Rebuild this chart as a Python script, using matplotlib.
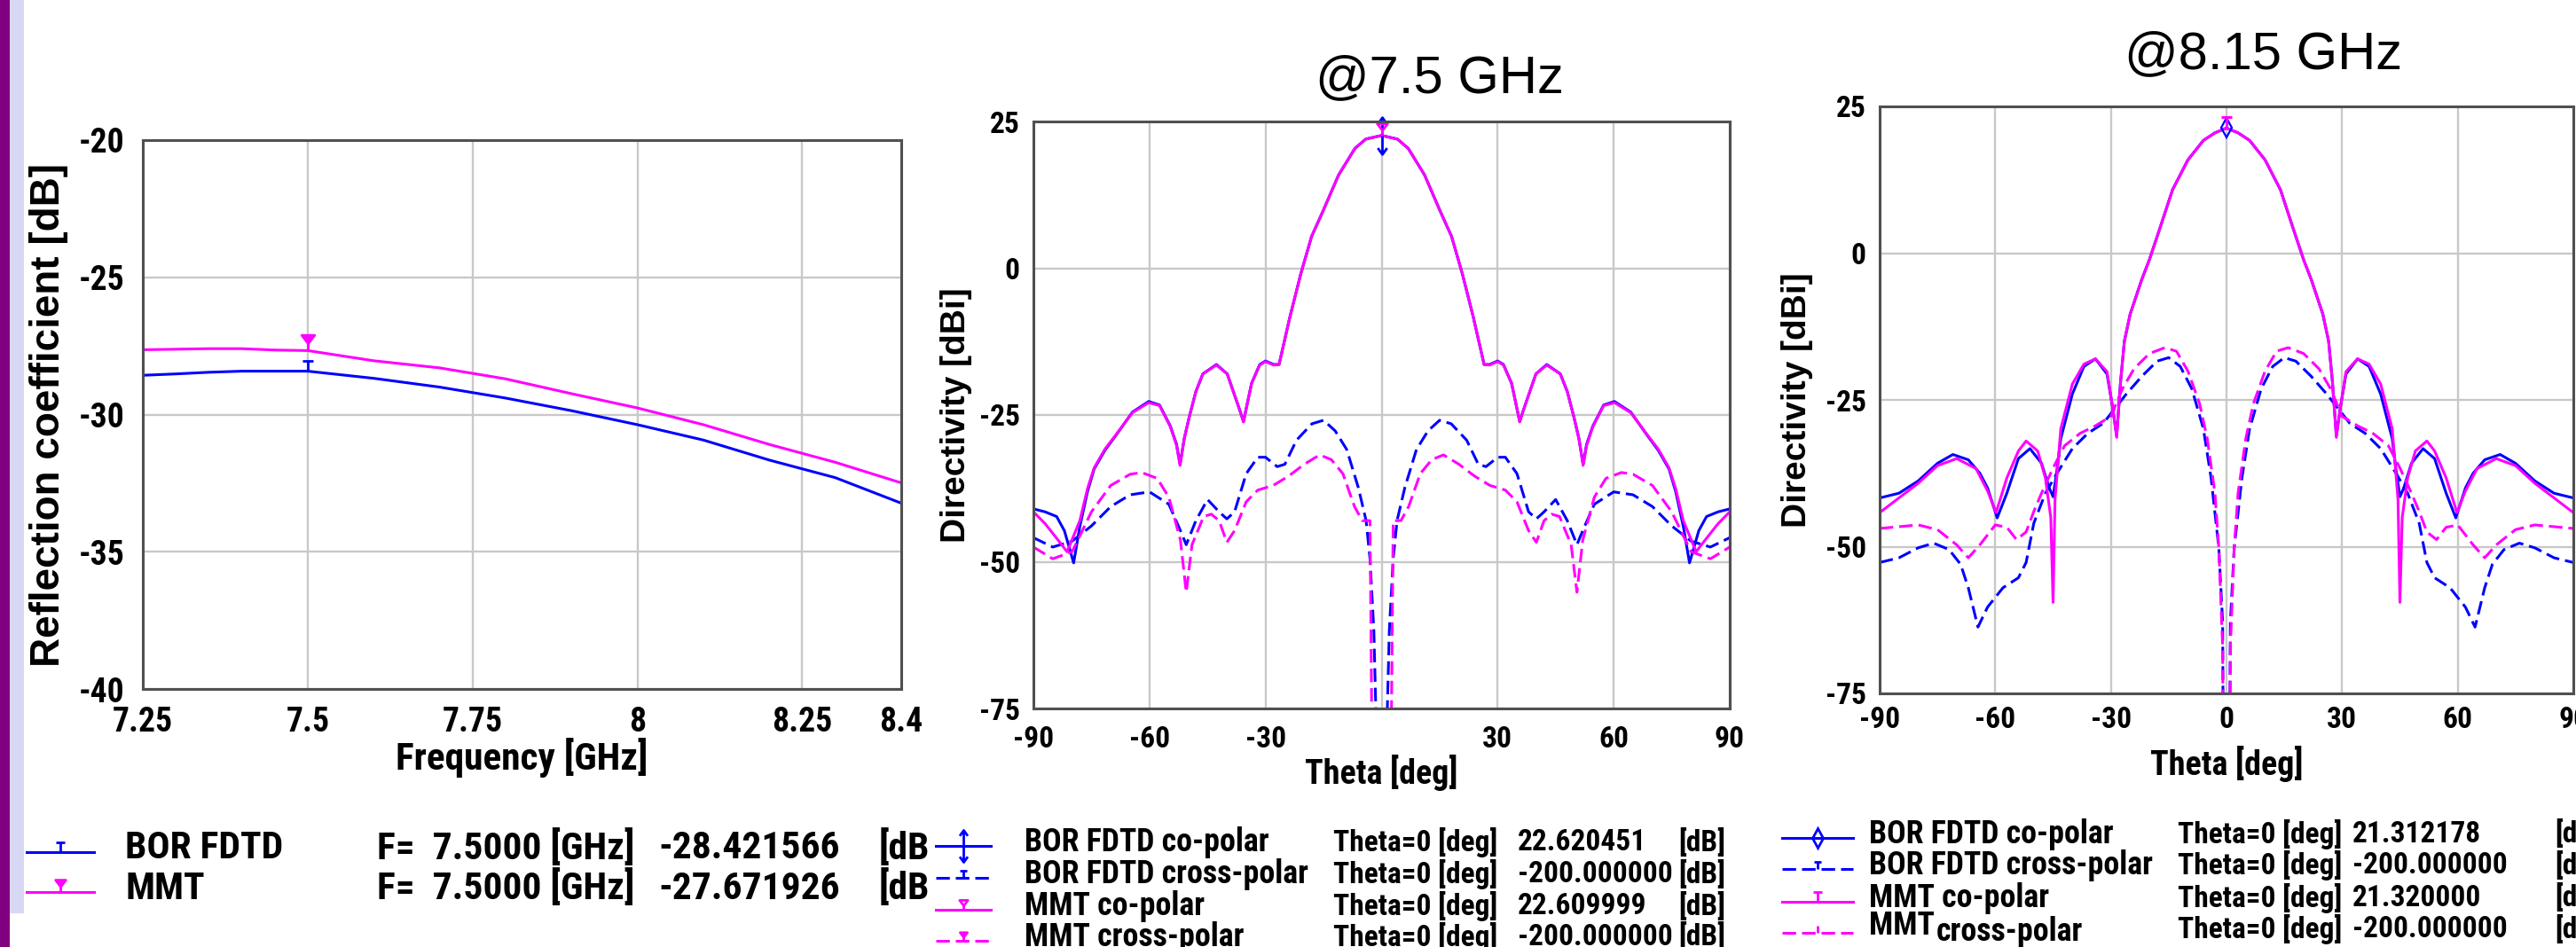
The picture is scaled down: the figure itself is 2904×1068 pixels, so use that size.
import matplotlib
matplotlib.use("Agg")
import matplotlib.pyplot as plt
from matplotlib.path import Path
from matplotlib.lines import Line2D
from matplotlib.patches import Rectangle
from matplotlib import font_manager

W, H = 2904, 1068
fonts = font_manager.fontManager.ttflist


def has_font(name, condensed=False):
    for f in fonts:
        if f.name == name and (not condensed or "condensed" in str(f.stretch)):
            return True
    return False


# the solver screenshots use a narrow bold face; take the closest one installed
if has_font("Liberation Sans Narrow"):
    NARROW, STRETCH = "Liberation Sans Narrow", "normal"
elif has_font("Roboto Condensed"):
    NARROW, STRETCH = "Roboto Condensed", "normal"
elif has_font("DejaVu Sans", condensed=True):
    NARROW, STRETCH = "DejaVu Sans", "condensed"
elif has_font("Open Sans Condensed"):
    NARROW, STRETCH = "Open Sans Condensed", "normal"
else:
    NARROW, STRETCH = "Liberation Sans", "normal"
ARIAL = "Liberation Sans" if has_font("Liberation Sans") else "DejaVu Sans"
NF = dict(fontfamily=NARROW, fontstretch=STRETCH, fontweight="bold")

BLUE = "#0000ff"
MAGENTA = "#ff00ff"

# ---- reflection coefficient vs frequency ----
freq = [7.25, 7.3, 7.35, 7.4, 7.45, 7.5, 7.6, 7.7, 7.8, 7.9, 8.0, 8.1, 8.2, 8.3, 8.4]
s11_bor = [-28.57, -28.52, -28.46, -28.42, -28.42, -28.42, -28.68, -29.0, -29.4, -29.86,
           -30.37, -30.93, -31.66, -32.3, -33.23]
s11_mmt = [-27.64, -27.62, -27.6, -27.6, -27.65, -27.67, -28.04, -28.3, -28.7, -29.24,
           -29.76, -30.37, -31.09, -31.74, -32.49]

# ---- directivity @7.5 GHz ----
th75_bor_co = [-90, -87, -84, -82, -79.6, -78, -76, -74.3, -71.5, -68.7, -64.4, -60.2, -57.4, -54.6,
               -53, -52.1, -51, -49.7, -48, -46.2, -42.7, -39.9, -37.8, -36.5, -35.7, -34.7, -33.6,
               -31.5, -30, -27.9, -26.5, -25.5, -23.7, -20.9, -18.1, -15.3, -11.1, -6.9, -4.1, 0,
               4.1, 6.9, 11.1, 15.3, 18.1, 20.9, 23.7, 25.5, 26.5, 27.9, 30, 31.5, 33.6, 34.7, 35.7,
               36.5, 37.8, 39.9, 42.7, 46.2, 48, 49.7, 51, 52.1, 53, 54.6, 57.4, 60.2, 64.4, 68.7,
               71.5, 74.3, 76, 78, 79.6, 82, 84, 87, 90]
d75_bor_co = [-41, -41.5, -42.3, -44.7, -50.2, -44, -38, -34.2, -31, -28.5, -24.5, -22.7, -23.3, -26.9,
              -30, -33.4, -29, -25.3, -21, -18, -16.4, -18, -22, -24.5, -26.1, -23, -19.6,
              -16.4, -15.8, -16.4, -16.4, -13.5, -8.3, -1.0, 5.4, 9.5, 15.9, 20.4, 22.0, 22.62,
              22.0, 20.4, 15.9, 9.5, 5.4, -1.0, -8.3, -13.5, -16.4, -16.4, -15.8, -16.4, -19.6, -23, -26.1,
              -24.5, -22, -18, -16.4, -18, -21, -25.3, -29, -33.4, -30, -26.9, -23.3, -22.7, -24.5, -28.5,
              -31, -34.2, -38, -44, -50.2, -44.7, -42.3, -41.5, -41]
th75_mmt_co = [-90, -87, -84, -81.3, -78, -76, -74.3, -71.5, -68.7, -64.4, -60.2, -57.4, -54.6, -53,
               -52.1, -51, -49.7, -48, -46.2, -42.7, -39.9, -37.8, -36.5, -35.7, -34.7, -33.6, -31.5,
               -30, -27.9, -26.5, -25.5, -23.7, -20.9, -18.1, -15.3, -11.1, -6.9, -4.1, 0,
               4.1, 6.9, 11.1, 15.3, 18.1, 20.9, 23.7, 25.5, 26.5, 27.9, 30, 31.5, 33.6, 34.7, 35.7,
               36.5, 37.8, 39.9, 42.7, 46.2, 48, 49.7, 51, 52.1, 53, 54.6, 57.4, 60.2, 64.4, 68.7,
               71.5, 74.3, 76, 78, 81.3, 84, 87, 90]
d75_mmt_co = [-41.5, -43.5, -46, -48.3, -43, -37.5, -34, -30.8, -28.4, -24.6, -22.9, -23.4, -27, -30.2,
              -33.6, -29, -25.3, -21, -18, -16.5, -18, -22, -24.5, -26.2, -23, -19.6, -16.5,
              -15.9, -16.5, -16.4, -13.5, -8.3, -1.0, 5.4, 9.5, 15.9, 20.4, 22.0, 22.61,
              22.0, 20.4, 15.9, 9.5, 5.4, -1.0, -8.3, -13.5, -16.4, -16.5, -15.9, -16.5, -19.6, -23, -26.2,
              -24.5, -22, -18, -16.5, -18, -21, -25.3, -29, -33.6, -30.2, -27, -23.4, -22.9, -24.6, -28.4,
              -30.8, -34, -37.5, -43, -48.3, -46, -43.5, -41.5]
th75_bor_x = [-90, -85, -80, -75, -70, -65, -60, -55, -52, -50.5, -48, -45, -42, -40, -38, -35, -32, -30,
              -27, -25, -22, -18, -15, -12, -9, -6, -4, -3, -2, -1.3, 0, 1.3, 2, 3, 4, 6, 9, 12, 15, 18,
              22, 25, 27, 30, 32, 35, 38, 40, 42, 45, 48, 50.5, 52, 55, 60, 65, 70, 75, 80, 85, 90]
d75_bor_x = [-45.9, -47.5, -46.5, -43.9, -40.6, -38.6, -38.1, -40.2, -44.7, -47.1, -43, -39.4, -41.5,
             -42.7, -41.5, -35, -32.2, -32.2, -33.8, -33.4, -29.3, -26.5, -25.9, -27.7, -30.9, -37.4,
             -43, -49.5, -61.7, -80, -200, -80, -61.7, -49.5, -43, -37.4, -30.9, -27.7, -25.9, -26.5,
             -29.3, -33.4, -33.8, -32.2, -32.2, -35, -41.5, -42.7, -41.5, -39.4, -43, -47.1, -44.7,
             -40.2, -38.1, -38.6, -40.6, -43.9, -46.5, -47.5, -45.9]
th75_mmt_x = [-90, -85, -80, -75, -70, -65, -62, -58, -55, -52, -50.5, -49, -46, -44, -42, -40, -38, -35,
              -32, -28, -24, -20, -16, -13, -10, -7, -5, -3, -2.5, 0, 2.5, 3, 5, 7, 10, 13, 16, 20, 24,
              28, 32, 35, 38, 40, 42, 44, 46, 49, 50.5, 52, 55, 58, 62, 65, 70, 75, 80, 85, 90]
d75_mmt_x = [-47.5, -49.5, -48.3, -41.5, -37, -35.1, -34.8, -35.8, -39, -46.3, -55.2, -47.1, -42.3,
             -41.9, -43, -46.7, -44.7, -39.8, -37.8, -37, -35.4, -33.4, -31.8, -32.6, -35, -40.6, -43,
             -43, -80, -200, -80, -43, -43, -40.6, -35, -32.6, -31.8, -33.4, -35.4, -37, -37.8, -39.8,
             -44.7, -46.7, -43, -41.9, -42.3, -47.1, -55.2, -46.3, -39, -35.8, -34.8, -35.1, -37, -41.5,
             -48.3, -49.5, -47.5]

# ---- directivity @8.15 GHz ----
th815_bor_co = [-90, -85, -80, -75, -71, -67, -64, -62, -59.5, -57, -54, -51, -48, -46, -45, -44, -43,
                -40, -37, -34, -31, -29.5, -28.5, -27.5, -26.5, -25, -22, -20, -17, -14, -10, -6, -3, 0,
                3, 6, 10, 14, 17, 20, 22, 25, 26.5, 27.5, 28.5, 29.5, 31, 34, 37, 40, 43, 44, 45, 46,
                48, 51, 54, 57, 59.5, 62, 64, 67, 71, 75, 80, 85, 90]
d815_bor_co = [-41.7, -40.9, -38.8, -35.8, -34.3, -35.2, -37.5, -40, -45.1, -40.9, -35, -33.3, -35.8,
               -40, -41.5, -37, -31.6, -24, -19.3, -18, -20.6, -26.5, -31.1, -22, -15, -10.4, -4.5,
               -1.1, 4.8, 10.8, 15.9, 19.2, 20.5, 21.31, 20.5, 19.2, 15.9, 10.8, 4.8, -1.1, -4.5,
               -10.4, -15, -22, -31.1, -26.5, -20.6, -18, -19.3, -24, -31.6, -37, -41.5, -40, -35.8,
               -33.3, -35, -40.9, -45.1, -40, -37.5, -35.2, -34.3, -35.8, -38.8, -40.9, -41.7]
th815_mmt_co = [-90, -85, -80, -75, -70, -65, -62, -59.8, -57, -54, -52, -49, -47, -45.6, -45, -44.5,
                -43, -40, -37, -34, -31, -29.5, -28.5, -27.5, -26.5, -25, -22, -20, -17, -14, -10, -6,
                -3, 0, 3, 6, 10, 14, 17, 20, 22, 25, 26.5, 27.5, 28.5, 29.5, 31, 34, 37, 40, 43, 44.5,
                45, 45.6, 47, 49, 52, 54, 57, 59.8, 62, 65, 70, 75, 80, 85, 90]
d815_mmt_co = [-44.2, -41.7, -39.2, -36.2, -35, -36.7, -40.5, -44.2, -38.3, -33.7, -32, -33.7, -38.3,
               -45, -59.5, -42, -29.9, -22.3, -18.9, -18, -20.2, -26.5, -31.4, -22, -15, -10.4, -4.5,
               -1.1, 4.8, 10.8, 15.9, 19.2, 20.5, 21.32, 20.5, 19.2, 15.9, 10.8, 4.8, -1.1, -4.5,
               -10.4, -15, -22, -31.4, -26.5, -20.2, -18, -18.9, -22.3, -29.9, -42, -59.5, -45, -38.3,
               -33.7, -32, -33.7, -38.3, -44.2, -40.5, -36.7, -35, -36.2, -39.2, -41.7, -44.2]
th815_bor_x = [-90, -85, -80, -76, -72, -69, -67, -64.5, -62, -58, -54, -52, -50, -47, -44, -40, -36,
               -32, -29, -26, -22, -18, -15, -12, -9, -6, -4, -2, -1, 0, 1, 2, 4, 6, 9, 12, 15, 18, 22,
               26, 29, 32, 36, 40, 44, 47, 50, 52, 54, 58, 62, 64.5, 67, 69, 72, 76, 80, 85, 90]
d815_bor_x = [-52.7, -51.9, -50.2, -49.4, -50.5, -53, -57, -63.7, -60.3, -57, -55.3, -52.7, -46, -40.9,
              -37.5, -33.3, -30.7, -29, -26.5, -24, -21, -18.4, -17.8, -19.3, -23.1, -29.9, -38.3,
              -50.2, -62.9, -200, -62.9, -50.2, -38.3, -29.9, -23.1, -19.3, -17.8, -18.4, -21, -24,
              -26.5, -29, -30.7, -33.3, -37.5, -40.9, -46, -52.7, -55.3, -57, -60.3, -63.7, -57, -53,
              -50.5, -49.4, -50.2, -51.9, -52.7]
th815_mmt_x = [-90, -85, -80, -75, -70, -67, -64, -60, -57, -54.5, -52, -50, -48, -45, -42, -38, -34,
               -30, -27, -24, -20, -16, -13, -10, -7, -5, -3, -2, -1, 0, 1, 2, 3, 5, 7, 10, 13, 16, 20,
               24, 27, 30, 34, 38, 42, 45, 48, 50, 52, 54.5, 57, 60, 64, 67, 70, 75, 80, 85, 90]
d815_mmt_x = [-46.9, -46.6, -46.3, -47.1, -49.7, -51.9, -49.7, -46.3, -46.7, -48.8, -47.5, -44, -40.9,
              -36.6, -32.8, -30.7, -29.4, -27.8, -23.1, -19.7, -17.1, -16.1, -16.7, -20.1, -25.6,
              -31.6, -40.9, -50.2, -67.1, -200, -67.1, -50.2, -40.9, -31.6, -25.6, -20.1, -16.7,
              -16.1, -17.1, -19.7, -23.1, -27.8, -29.4, -30.7, -32.8, -36.6, -40.9, -44, -47.5, -48.8,
              -46.7, -46.3, -49.7, -51.9, -49.7, -47.1, -46.3, -46.6, -46.9]

# ---- legend table texts ----
s11_names = ["BOR FDTD", "MMT"]
s11_probe = ["F=  7.5000 [GHz]", "F=  7.5000 [GHz]"]
s11_values = ["-28.421566", "-27.671926"]
pat_names = ["BOR FDTD co-polar", "BOR FDTD cross-polar", "MMT co-polar", "MMT cross-polar"]
pat_probe = "Theta=0 [deg]"
pat75_values = ["22.620451", "-200.000000", "22.609999", "-200.000000"]
pat815_values = ["21.312178", "-200.000000", "21.320000", "-200.000000"]

# marker shapes used by the solver plots
M, L, C = Path.MOVETO, Path.LINETO, Path.CLOSEPOLY
T_MARK = Path([(0, 0), (0, 1), (-0.45, 1), (0.45, 1)], [M, L, M, L])
TRI_MARK = Path([(0, 0), (0, 0.45), (-0.42, 1), (0.42, 1), (0, 0.45), (0, 0.45)], [M, L, M, L, L, C])
ARROWS = Path([(0, -1), (0, 1), (-0.25, 0.65), (0, 1), (0.25, 0.65), (-0.25, -0.65), (0, -1), (0.25, -0.65)],
              [M, L, M, L, L, M, L, L])
STEM = Path([(0, 0), (0, 1)], [M, L])

LW = 2.2
DASH = (5, 2.2)

fig = plt.figure(figsize=(W / 100, H / 100), dpi=100, facecolor="white")
renderer = fig.canvas.get_renderer()


def fit_size(sample, target_px):
    # font size that gives the sample string the width it has in the screenshot
    t = fig.text(0, 0, sample, fontsize=100, **NF)
    w = t.get_window_extent(renderer).width
    t.remove()
    return 100 * target_px / w


TICK1 = fit_size("7.25", 68)
TICK23 = fit_size("-90", 46)
XLAB1 = fit_size("Frequency [GHz]", 285)
XLAB23 = fit_size("Theta [deg]", 172)
LEG1 = fit_size("BOR FDTD", 178)
LEG23 = fit_size("BOR FDTD co-polar", 276)
COL23 = 0.93 * LEG23

# left window border
fig.add_artist(Rectangle((0, 0), 11 / W, 1, transform=fig.transFigure, color="#800080", lw=0))
fig.add_artist(Rectangle((11 / W, 1 - 1030 / H), 16 / W, 1030 / H, transform=fig.transFigure,
                         color="#d8d8f4", lw=0))


def make_axes(l, t, r, b):
    ax = fig.add_axes([l / W, 1 - b / H, (r - l) / W, (b - t) / H])
    ax.set_facecolor("white")
    ax.grid(True, color="#c8c8c8", lw=1.7)
    ax.set_axisbelow(True)
    for s in ax.spines.values():
        s.set_color("#505050")
        s.set_linewidth(2.2)
    ax.tick_params(length=0)
    return ax


def style_ticks(ax, xt, xl, yt, yl, size, xpad, ypad):
    ax.set_xticks(xt)
    ax.set_xticklabels(xl, fontsize=size, **NF)
    ax.set_yticks(yt)
    ax.set_yticklabels(yl, fontsize=size, **NF)
    ax.tick_params(axis="x", pad=xpad)
    ax.tick_params(axis="y", pad=ypad)


def labels(ax, box, xlab, xsize, xlab_y, ylab, ysize, ylab_x):
    l, t, r, b = box
    ax.set_xlabel(xlab, fontsize=xsize, va="center", **NF)
    ax.xaxis.set_label_coords(0.5, (b - xlab_y) / (b - t))
    ax.set_ylabel(ylab, fontfamily=ARIAL, fontweight="bold", fontsize=ysize, va="center")
    ax.yaxis.set_label_coords((ylab_x - l) / (r - l), 0.5)


def legend_row(x0, x1, y, color, dashed, texts, size, marker=None, ms=10, filled=False):
    # texts: (x, string[, font size[, vertical shift]])
    fy = 1 - (y + 4) / H
    ln = Line2D([x0 / W, x1 / W], [fy, fy], transform=fig.transFigure, color=color, lw=LW)
    if dashed:
        ln.set_dashes(DASH)
    fig.add_artist(ln)
    if marker is not None:
        fig.add_artist(Line2D([(x0 + x1) / 2 / W], [fy], transform=fig.transFigure, ls="none",
                              marker=marker, ms=ms, mec=color, mew=2,
                              mfc=color if filled else "none"))
    for cell in texts:
        x, s = cell[0], cell[1]
        fs = cell[2] if len(cell) > 2 else size
        dy = cell[3] if len(cell) > 3 else 0
        fig.text(x / W, 1 - (y + dy) / H, s, ha="left", va="center", fontsize=fs, **NF)


# ===== panel 1 : reflection coefficient =====
box1 = (161, 158, 1016, 777)
ax1 = make_axes(*box1)
ax1.plot(freq, s11_bor, color=BLUE, lw=LW)
ax1.plot(freq, s11_mmt, color=MAGENTA, lw=LW)
i75 = freq.index(7.5)
ax1.plot(freq[i75], s11_bor[i75], ls="none", marker=T_MARK, ms=18, mec=BLUE, mfc="none", mew=2, clip_on=False)
ax1.plot(freq[i75], s11_mmt[i75], ls="none", marker=TRI_MARK, ms=25, mec=MAGENTA, mfc=MAGENTA, mew=2,
         clip_on=False)
ax1.set_xlim(7.25, 8.4)
ax1.set_ylim(-40, -20)
style_ticks(ax1, [7.25, 7.5, 7.75, 8, 8.25, 8.4], ["7.25", "7.5", "7.75", "8", "8.25", "8.4"],
            [-40, -35, -30, -25, -20], ["-40", "-35", "-30", "-25", "-20"], TICK1, 14, 15)
labels(ax1, box1, "Frequency [GHz]", XLAB1, 855, "Reflection coefficient [dB]", 33, 55)

# ===== panel 2 : directivity @7.5 GHz =====
box2 = (1165, 137, 1950, 799)
ax2 = make_axes(*box2)
ax2.plot(th75_bor_co, d75_bor_co, color=BLUE, lw=LW)
ax2.plot(th75_bor_x, d75_bor_x, color=BLUE, lw=LW, dashes=DASH)
ax2.plot(th75_mmt_co, d75_mmt_co, color=MAGENTA, lw=LW)
ax2.plot(th75_mmt_x, d75_mmt_x, color=MAGENTA, lw=LW, dashes=DASH)
j = th75_bor_co.index(0)
ax2.plot(th75_bor_co[j], d75_bor_co[j], ls="none", marker=ARROWS, ms=30, mec=BLUE, mfc="none", mew=2,
         clip_on=False)
j = th75_mmt_co.index(0)
ax2.plot(th75_mmt_co[j], d75_mmt_co[j], ls="none", marker=TRI_MARK, ms=20, mec=MAGENTA, mfc="none",
         mew=2, clip_on=False)
ax2.set_xlim(-90, 90)
ax2.set_ylim(-75, 25)
style_ticks(ax2, [-90, -60, -30, 0, 30, 60, 90], ["-90", "-60", "-30", "", "30", "60", "90"],
            [-75, -50, -25, 0, 25], ["-75", "-50", "-25", "0", "25"], TICK23, 14, 11)
labels(ax2, box2, "Theta [deg]", XLAB23, 872, "Directivity [dBi]", 28, 1078)
fig.text(1623 / W, 1 - 104 / H, "@7.5 GHz", ha="center", va="baseline", fontfamily=ARIAL, fontsize=43)

# ===== panel 3 : directivity @8.15 GHz =====
box3 = (2119, 120, 2901, 782)
ax3 = make_axes(*box3)
ax3.plot(th815_bor_co, d815_bor_co, color=BLUE, lw=LW)
ax3.plot(th815_bor_x, d815_bor_x, color=BLUE, lw=LW, dashes=DASH)
ax3.plot(th815_mmt_co, d815_mmt_co, color=MAGENTA, lw=LW)
ax3.plot(th815_mmt_x, d815_mmt_x, color=MAGENTA, lw=LW, dashes=DASH)
j = th815_bor_co.index(0)
ax3.plot(th815_bor_co[j], d815_bor_co[j], ls="none", marker="d", ms=11, mec=BLUE, mfc="none", mew=1.6)
j = th815_mmt_co.index(0)
ax3.plot(th815_mmt_co[j], d815_mmt_co[j], ls="none", marker=T_MARK, ms=18, mec=MAGENTA, mfc="none",
         mew=2.2, clip_on=False)
ax3.set_xlim(-90, 90)
ax3.set_ylim(-75, 25)
style_ticks(ax3, [-90, -60, -30, 0, 30, 60, 90], ["-90", "-60", "-30", "0", "30", "60", "90"],
            [-75, -50, -25, 0, 25], ["-75", "-50", "-25", "0", "25"], TICK23, 10, 11)
labels(ax3, box3, "Theta [deg]", XLAB23, 862, "Directivity [dBi]", 28, 2026)
fig.text(2552 / W, 1 - 77 / H, "@8.15 GHz", ha="center", va="baseline", fontfamily=ARIAL, fontsize=43)

# ===== legend tables =====
rows1 = [957, 1002]
legend_row(30, 106, rows1[0], BLUE, False,
           [(141, s11_names[0]), (425, s11_probe[0]), (742, s11_values[0]), (991, "[dB")], LEG1,
           marker=T_MARK, ms=16)
legend_row(30, 106, rows1[1], MAGENTA, False,
           [(141, s11_names[1]), (425, s11_probe[1]), (742, s11_values[1]), (991, "[dB")], LEG1,
           marker=TRI_MARK, ms=20, filled=True)

rows2 = [950, 986, 1022, 1057]
marks2 = [(ARROWS, 26, False), (T_MARK, 12, False), (TRI_MARK, 16, False), (TRI_MARK, 14, True)]
for k in range(4):
    col = BLUE if k < 2 else MAGENTA
    legend_row(1055, 1117, rows2[k], col, k % 2 == 1,
               [(1155, pat_names[k]), (1503, pat_probe, COL23), (1711, pat75_values[k], COL23),
                (1892, "[dB]", COL23)], LEG23,
               marker=marks2[k][0], ms=marks2[k][1], filled=marks2[k][2])

rows3 = [941, 976, 1013, 1048]
marks3 = [("d", 11, False), (T_MARK, 12, False), (T_MARK, 16, False), (STEM, 12, False)]
for k in range(4):
    col = BLUE if k < 2 else MAGENTA
    if k == 3:
        # the solver prints this name with "MMT" set slightly higher
        name_cells = [(2107, "MMT", LEG23, -4), (2183, "cross-polar", LEG23, 3)]
    else:
        name_cells = [(2107, pat_names[k])]
    legend_row(2009, 2089, rows3[k], col, k % 2 == 1,
               name_cells + [(2455, pat_probe, COL23), (2652, pat815_values[k], COL23),
                             (2880, "[dB]", COL23)], LEG23,
               marker=marks3[k][0], ms=marks3[k][1], filled=marks3[k][2])

fig.savefig("out.png", dpi=100, facecolor="white")
